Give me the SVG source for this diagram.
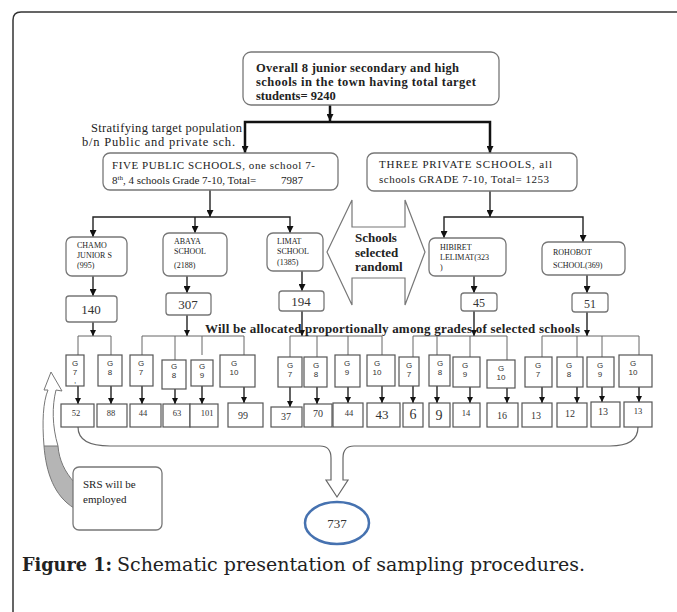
<svg xmlns="http://www.w3.org/2000/svg" width="677" height="612" viewBox="0 0 677 612">
<defs>
<style>
.t{font-family:"Liberation Serif","Times New Roman",serif;fill:#222}
.b{font-weight:bold}
.cap{font-family:"DejaVu Serif","Liberation Serif",serif;fill:#222}
.box{fill:#fff;stroke:#777;stroke-width:1.3}
.g{fill:#fff;stroke:#555;stroke-width:1.2}
.gt{font-family:"Liberation Sans",Arial,sans-serif;font-size:8px;fill:#333;text-anchor:middle}
.nt{font-family:"Liberation Serif","Times New Roman",serif;fill:#333;text-anchor:middle}
.thick{fill:none;stroke:#111;stroke-width:2.5}
.med{fill:none;stroke:#222;stroke-width:1.4}
.thin{fill:none;stroke:#666;stroke-width:1}
</style>
<marker id="ah" viewBox="0 0 10 10" refX="10" refY="5" markerWidth="7" markerHeight="7" markerUnits="userSpaceOnUse" orient="auto"><path d="M0,0 L10,5 L0,10 z" fill="#111"/></marker>
<marker id="ahs" viewBox="0 0 10 10" refX="10" refY="5" markerWidth="6" markerHeight="6" markerUnits="userSpaceOnUse" orient="auto"><path d="M0,0 L10,5 L0,10 z" fill="#111"/></marker>
</defs>
<rect width="677" height="612" fill="#fff"/>
<path d="M13,612 L13,20 Q13,12 21,12 L677,12" fill="none" stroke="#333" stroke-width="1.5"/>

<g id="connectors">
<path class="thick" d="M330,105 L330,121" marker-end="url(#ah)"/>
<path class="thick" d="M330,122 L245,122 L245,153" marker-end="url(#ah)"/>
<path class="thick" d="M330,122 L490,122 L490,153" marker-end="url(#ah)"/>
<path class="med" d="M210,190 L210,217" marker-end="url(#ah)"/>
<path class="med" d="M195,217 L93,217 L93,237" marker-end="url(#ah)"/>
<path class="med" d="M195,217 L195,233" marker-end="url(#ah)"/>
<path class="med" d="M195,217 L290,217 L290,233" marker-end="url(#ah)"/>
<path class="med" d="M490,191 L490,217" marker-end="url(#ah)"/>
<path class="med" d="M490,217 L444,217 L444,238" marker-end="url(#ah)"/>
<path class="med" d="M490,217 L583,217 L583,242" marker-end="url(#ah)"/>
<path class="med" d="M93,276 L93,296" marker-end="url(#ah)"/>
<path class="med" d="M187,276 L187,293" marker-end="url(#ah)"/>
<path class="med" d="M302,271 L302,291" marker-end="url(#ah)"/>
<path class="med" d="M474,276 L474,293" marker-end="url(#ah)"/>
<path class="med" d="M587,275 L587,293" marker-end="url(#ah)"/>
<path class="med" d="M93,322 L93,336" marker-end="url(#ahs)"/>
<path class="med" d="M187,315 L187,336" marker-end="url(#ahs)"/>
<path class="med" d="M302,311 L302,336" marker-end="url(#ahs)"/>
<path class="med" d="M474,311 L474,336" marker-end="url(#ahs)"/>
<path class="med" d="M587,312 L587,336" marker-end="url(#ahs)"/>
<path class="thin" d="M78,355 L78,336 L111,336 L111,355"/>
<path class="thin" d="M142,355 L142,336 L244,336 L244,355 M175,336 L175,360 M202,336 L202,355"/>
<path class="thin" d="M290,357 L290,336 L382,336 L382,355 M317,336 L317,357 M348,336 L348,355"/>
<path class="thin" d="M413,357 L413,336 L507,336 L507,360 M437,336 L437,355 M470,336 L470,357"/>
<path class="thin" d="M542,357 L542,336 L639,336 L639,355 M577,336 L577,357 M602,336 L602,357"/>
<g class="med">
<path d="M78,386 L78,404" marker-end="url(#ahs)"/>
<path d="M111,386 L111,404" marker-end="url(#ahs)"/>
<path d="M142,386 L142,404" marker-end="url(#ahs)"/>
<path d="M175,389 L175,404" marker-end="url(#ahs)"/>
<path d="M202,386 L202,404" marker-end="url(#ahs)"/>
<path d="M244,387 L244,403" marker-end="url(#ahs)"/>
<path d="M290,387 L290,407" marker-end="url(#ahs)"/>
<path d="M317,387 L317,404" marker-end="url(#ahs)"/>
<path d="M348,387 L348,403" marker-end="url(#ahs)"/>
<path d="M382,386 L382,403" marker-end="url(#ahs)"/>
<path d="M413,386 L413,403" marker-end="url(#ahs)"/>
<path d="M437,386 L437,403" marker-end="url(#ahs)"/>
<path d="M470,387 L470,403" marker-end="url(#ahs)"/>
<path d="M507,388 L507,403" marker-end="url(#ahs)"/>
<path d="M542,387 L542,403" marker-end="url(#ahs)"/>
<path d="M577,387 L577,403" marker-end="url(#ahs)"/>
<path d="M602,387 L602,402" marker-end="url(#ahs)"/>
<path d="M639,387 L639,402" marker-end="url(#ahs)"/>
</g>
<path d="M78,427 C78,440 90,446 110,446 L320,446 C327,446 331,450 331,458 L331,480 L326,480 L337,497 L348,480 L343,480 L343,458 C343,450 347,446 354,446 L610,446 C628,446 638,440 638,427" fill="none" stroke="#666" stroke-width="1.2"/>
</g>

<g id="top">
<rect class="box" x="243" y="52" width="256" height="53" rx="8"/>
<text class="t b" font-size="12.5"><tspan x="256" y="72" textLength="203">Overall 8 junior secondary and high</tspan><tspan x="256" y="86" textLength="220">schools in the town having total target</tspan><tspan x="256" y="100">students= 9240</tspan></text>
</g>

<g id="stratify">
<text class="t" font-size="12.5"><tspan x="91" y="132" textLength="151">Stratifying target population</tspan><tspan x="82" y="146" textLength="153">b/n Public and private sch.</tspan></text>
</g>

<g id="public">
<rect class="box" x="103" y="153" width="235" height="37" rx="7"/>
<text class="t" font-size="11"><tspan x="112" y="169" textLength="203">FIVE PUBLIC SCHOOLS, one school 7-</tspan></text>
<text class="t" font-size="11" x="112" y="184">8<tspan font-size="7" dy="-4">th</tspan><tspan dy="4">, 4 schools Grade 7-10, Total=</tspan></text>
<text class="t" font-size="11" x="281" y="184">7987</text>
</g>

<g id="private">
<rect class="box" x="367" y="153" width="210" height="38" rx="7"/>
<text class="t" font-size="11"><tspan x="379" y="168" textLength="173">THREE PRIVATE SCHOOLS, all</tspan><tspan x="379" y="183" textLength="170">schools GRADE 7-10, Total= 1253</tspan></text>
</g>

<g id="random">
<path d="M327,252 L352,200 L352,227 L405,227 L405,200 L425,252 L405,305 L405,278 L352,278 L352,305 Z" fill="#fff" stroke="#777" stroke-width="1.2"/>
<text class="t b" font-size="13"><tspan x="355" y="242">Schools</tspan><tspan x="355" y="257">selected</tspan><tspan x="355" y="271">randoml</tspan></text>
</g>

<g id="chamo">
<rect class="box" x="66" y="237" width="61" height="39" rx="6"/>
<text class="t" font-size="8"><tspan x="77" y="248">CHAMO</tspan><tspan x="77" y="258">JUNIOR S</tspan><tspan x="77" y="268">(995)</tspan></text>
</g>
<g id="abaya">
<rect class="box" x="163" y="233" width="64" height="43" rx="6"/>
<text class="t" font-size="8"><tspan x="174" y="244">ABAYA</tspan><tspan x="174" y="254">SCHOOL</tspan><tspan x="174" y="268">(2188)</tspan></text>
</g>
<g id="limat">
<rect class="box" x="267" y="233" width="56" height="38" rx="6"/>
<text class="t" font-size="8"><tspan x="277" y="244">LIMAT</tspan><tspan x="277" y="254">SCHOOL</tspan><tspan x="277" y="265">(1385)</tspan></text>
</g>
<g id="hibiret">
<rect class="box" x="429" y="238" width="77" height="38" rx="6"/>
<text class="t" font-size="8"><tspan x="440" y="250">HIBIRET</tspan><tspan x="440" y="260">LELIMAT(323</tspan><tspan x="440" y="270">)</tspan></text>
</g>
<g id="rohobot">
<rect class="box" x="542" y="242" width="83" height="33" rx="6"/>
<text class="t" font-size="8"><tspan x="553" y="255">ROHOBOT</tspan><tspan x="553" y="268">SCHOOL(369)</tspan></text>
</g>

<g id="n140"><rect class="box" x="66" y="296" width="51" height="26" rx="3"/><text class="nt" font-size="13" x="91" y="314">140</text></g>
<g id="n307"><rect class="box" x="166" y="293" width="45" height="22" rx="3"/><text class="nt" font-size="13" x="188" y="309">307</text></g>
<g id="n194"><rect class="box" x="279" y="291" width="45" height="20" rx="3"/><text class="nt" font-size="13" x="301" y="306">194</text></g>
<g id="n45"><rect class="box" x="461" y="293" width="36" height="18" rx="3"/><text class="nt" font-size="12" x="479" y="307">45</text></g>
<g id="n51"><rect class="box" x="572" y="293" width="36" height="19" rx="3"/><text class="nt" font-size="12" x="590" y="308">51</text></g>

<g id="alloc"><text class="t b" font-size="13" x="205" y="333" textLength="375">Will be allocated proportionally among grades of selected schools</text></g>

<g id="grades">
<g id="g1"><rect class="g" x="66" y="355" width="18" height="31"/><text class="gt"><tspan x="75" y="366">G</tspan><tspan x="75" y="375">7</tspan><tspan x="75" y="383">,</tspan></text></g>
<g id="g2"><rect class="g" x="98" y="355" width="24" height="31"/><text class="gt"><tspan x="110" y="366">G</tspan><tspan x="110" y="375">8</tspan></text></g>
<g id="g3"><rect class="g" x="130" y="355" width="23" height="31"/><text class="gt"><tspan x="141" y="366">G</tspan><tspan x="141" y="375">7</tspan></text></g>
<g id="g4"><rect class="g" x="162" y="360" width="24" height="29"/><text class="gt"><tspan x="174" y="369">G</tspan><tspan x="174" y="378">8</tspan></text></g>
<g id="g5"><rect class="g" x="191" y="360" width="22" height="26"/><text class="gt"><tspan x="202" y="369">G</tspan><tspan x="202" y="378">9</tspan></text></g>
<g id="g6"><rect class="g" x="220" y="355" width="35" height="32"/><text class="gt"><tspan x="234" y="366">G</tspan><tspan x="234" y="375">10</tspan></text></g>
<g id="g7"><rect class="g" x="278" y="357" width="24" height="30"/><text class="gt"><tspan x="290" y="368">G</tspan><tspan x="290" y="377">7</tspan></text></g>
<g id="g8"><rect class="g" x="304" y="357" width="23" height="30"/><text class="gt"><tspan x="316" y="368">G</tspan><tspan x="316" y="377">8</tspan></text></g>
<g id="g9"><rect class="g" x="335" y="355" width="25" height="32"/><text class="gt"><tspan x="347" y="366">G</tspan><tspan x="347" y="375">9</tspan></text></g>
<g id="g10"><rect class="g" x="367" y="355" width="28" height="31"/><text class="gt"><tspan x="377" y="366">G</tspan><tspan x="377" y="375">10</tspan></text></g>
<g id="g11"><rect class="g" x="399" y="357" width="20" height="29"/><text class="gt"><tspan x="409" y="368">G</tspan><tspan x="409" y="377">7</tspan></text></g>
<g id="g12"><rect class="g" x="429" y="355" width="21" height="31"/><text class="gt"><tspan x="440" y="366">G</tspan><tspan x="440" y="375">8</tspan></text></g>
<g id="g13"><rect class="g" x="453" y="357" width="27" height="30"/><text class="gt"><tspan x="465" y="368">G</tspan><tspan x="465" y="377">9</tspan></text></g>
<g id="g14"><rect class="g" x="487" y="360" width="28" height="28"/><text class="gt"><tspan x="501" y="371">G</tspan><tspan x="501" y="380">10</tspan></text></g>
<g id="g15"><rect class="g" x="525" y="357" width="27" height="30"/><text class="gt"><tspan x="538" y="368">G</tspan><tspan x="538" y="377">7</tspan></text></g>
<g id="g16"><rect class="g" x="557" y="357" width="26" height="30"/><text class="gt"><tspan x="569" y="368">G</tspan><tspan x="569" y="377">8</tspan></text></g>
<g id="g17"><rect class="g" x="587" y="357" width="27" height="30"/><text class="gt"><tspan x="600" y="368">G</tspan><tspan x="600" y="377">9</tspan></text></g>
<g id="g18"><rect class="g" x="619" y="355" width="33" height="32"/><text class="gt"><tspan x="633" y="366">G</tspan><tspan x="633" y="375">10</tspan></text></g>
</g>

<g id="counts">
<g id="c1"><rect class="g" x="61" y="404" width="33" height="23"/><text class="nt" font-size="8.5" x="76" y="416">52</text></g>
<g id="c2"><rect class="g" x="97" y="404" width="30" height="23"/><text class="nt" font-size="8.5" x="111" y="416">88</text></g>
<g id="c3"><rect class="g" x="130" y="404" width="31" height="23"/><text class="nt" font-size="8.5" x="143" y="416">44</text></g>
<g id="c4"><rect class="g" x="163" y="404" width="27" height="23"/><text class="nt" font-size="8.5" x="177" y="416">63</text></g>
<g id="c5"><rect class="g" x="190" y="404" width="28" height="23"/><text class="nt" font-size="8.5" x="207" y="416">101</text></g>
<g id="c6"><rect class="g" x="228" y="403" width="35" height="24"/><text class="nt" font-size="10" x="243" y="419">99</text></g>
<g id="c7"><rect class="g" x="271" y="407" width="31" height="20"/><text class="nt" font-size="10" x="286" y="420">37</text></g>
<g id="c8"><rect class="g" x="304" y="404" width="28" height="23"/><text class="nt" font-size="10" x="318" y="417">70</text></g>
<g id="c9"><rect class="g" x="333" y="403" width="30" height="24"/><text class="nt" font-size="8.5" x="349" y="416">44</text></g>
<g id="c10"><rect class="g" x="367" y="403" width="33" height="24"/><text class="nt" font-size="13" x="382" y="419">43</text></g>
<g id="c11"><rect class="g" x="403" y="403" width="20" height="24"/><text class="nt" font-size="14" x="413" y="419">6</text></g>
<g id="c12"><rect class="g" x="429" y="403" width="21" height="24"/><text class="nt" font-size="14" x="439" y="420">9</text></g>
<g id="c13"><rect class="g" x="453" y="403" width="27" height="24"/><text class="nt" font-size="8.5" x="466" y="416">14</text></g>
<g id="c14"><rect class="g" x="487" y="403" width="31" height="24"/><text class="nt" font-size="10" x="502" y="419">16</text></g>
<g id="c15"><rect class="g" x="522" y="403" width="30" height="24"/><text class="nt" font-size="10" x="536" y="419">13</text></g>
<g id="c16"><rect class="g" x="557" y="403" width="30" height="24"/><text class="nt" font-size="10" x="570" y="417">12</text></g>
<g id="c17"><rect class="g" x="591" y="402" width="29" height="25"/><text class="nt" font-size="10" x="603" y="415">13</text></g>
<g id="c18"><rect class="g" x="624" y="402" width="28" height="25"/><text class="nt" font-size="8.5" x="638" y="414">13</text></g>
</g>

<g id="srs">
<path d="M44,446 C42,422 43,402 48,390 L44,390 L51,372 L62,391 L56,390 C52,406 52,426 58,446" fill="#fff" stroke="#777" stroke-width="1"/>
<path d="M44,446 C46,472 54,496 74,508 L74,482 C65,472 59,460 58,446 Z" fill="#b5b5b5" stroke="#777" stroke-width="1"/>
<rect class="box" x="73" y="467" width="89" height="63" rx="6"/>
<text class="t" font-size="11"><tspan x="83" y="488">SRS will be</tspan><tspan x="83" y="503">employed</tspan></text>
</g>

<g id="total">
<ellipse cx="337" cy="523" rx="32" ry="21" fill="#fff" stroke="#4672b0" stroke-width="2.5"/>
<text class="nt" font-size="13" x="337" y="528">737</text>
</g>

<g id="caption">
<text class="cap b" font-size="18" x="22" y="571" textLength="90" lengthAdjust="spacingAndGlyphs">Figure 1:</text>
<text class="cap" font-size="18" x="117" y="571" textLength="468" lengthAdjust="spacingAndGlyphs">Schematic presentation of sampling procedures.</text>
</g>
</svg>
